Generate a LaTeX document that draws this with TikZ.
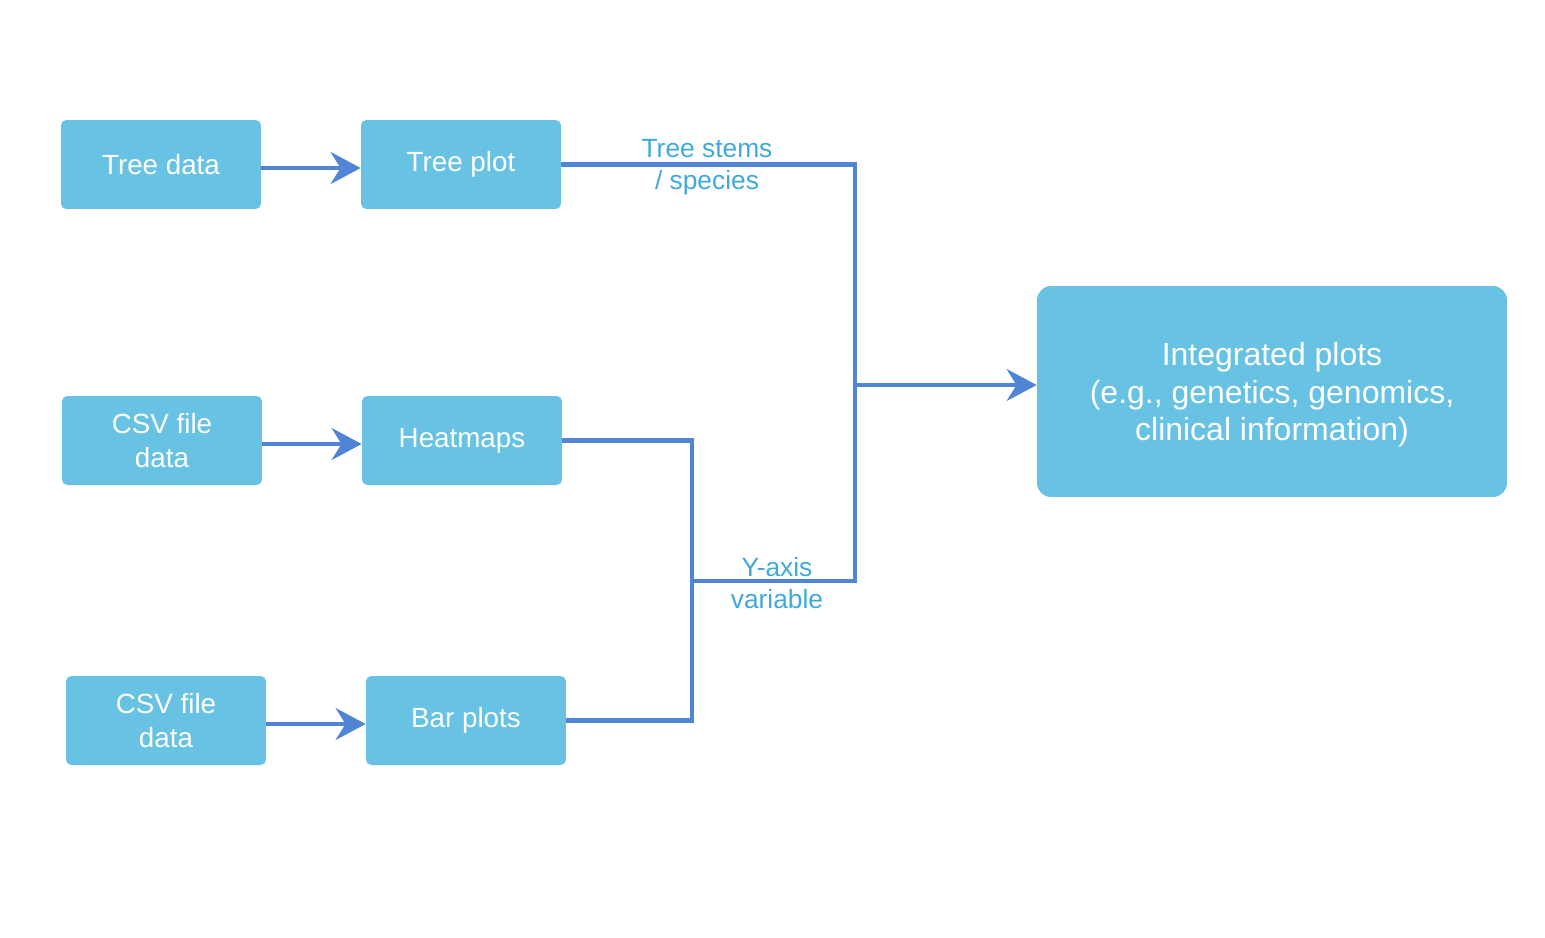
\documentclass[tikz,border=0pt]{standalone}
\usepackage{fontspec}
\setmainfont{Liberation Sans}
\usetikzlibrary{arrows.meta}
\definecolor{boxblue}{HTML}{68C2E3}
\definecolor{lineblue}{HTML}{5084D4}
\definecolor{labelblue}{HTML}{3FA9DA}
\tikzset{
  stepbox/.style={fill=boxblue,rounded corners=3pt,minimum width=4cm,minimum height=1.78cm,
    text=white,align=center,font=\fontsize{15.8}{19}\selectfont,inner sep=0pt},
  bigbox/.style={fill=boxblue,rounded corners=8pt,minimum width=9.4cm,minimum height=4.22cm,
    text=white,align=center,font=\fontsize{18.2}{21.5}\selectfont,inner sep=0pt},
  link/.style={draw=lineblue,line width=2.7pt},
  flow/.style={link,-{Stealth[length=17pt,width=18pt,inset=5.5pt]}},
  tag/.style={text=labelblue,align=center,font=\fontsize{15}{18}\selectfont,inner sep=0pt}
}
\begin{document}
\begin{tikzpicture}[x=0.02cm,y=-0.02cm]
    \useasboundingbox (0,0) rectangle (1545,937);
    % sources and plots
    \node[stepbox] (tdata) at (161,164.5) {Tree data};
    \node[stepbox] (tplot) at (461,164.5) {Tree plot};
    \node[stepbox] (csva) at (162,440.5) {CSV file\\data};
    \node[stepbox] (heat) at (462,440.5) {Heatmaps};
    \node[stepbox] (csvb) at (166,720.5) {CSV file\\data};
    \node[stepbox] (bars) at (466,720.5) {Bar plots};
    \node[bigbox] (integ) at (1272,391.5) {\raisebox{-0.08cm}[\height][\depth]{\begin{tabular}{@{}c@{}}Integrated plots\\(e.g., genetics, genomics,\\clinical information)\end{tabular}}};
    % junctions
    \coordinate (ja) at (855,581);
    \coordinate (jb) at (692,581);
    \coordinate (jc) at (692,720.5);
    \coordinate (jd) at (855,385);
    \draw[flow] ([yshift=-0.07cm]tdata.east) -- ([yshift=-0.07cm]tplot.west);
    \draw[flow] ([yshift=-0.07cm]csva.east) -- ([yshift=-0.07cm]heat.west);
    \draw[flow] ([yshift=-0.07cm]csvb.east) -- ([yshift=-0.07cm]bars.west);
    \draw[link] (tplot.east) -| (ja) -- (jb);
    \draw[link] (heat.east) -| (jc) -- (bars.east);
    \draw[flow] (jd) -- (integ.west |- jd);
    % labels
    \node[tag] (stems) at (707,167) {Tree stems\\/ species};
    \node[tag] (yaxis) at (777,583) {Y-axis\\variable};
\end{tikzpicture}
\end{document}
